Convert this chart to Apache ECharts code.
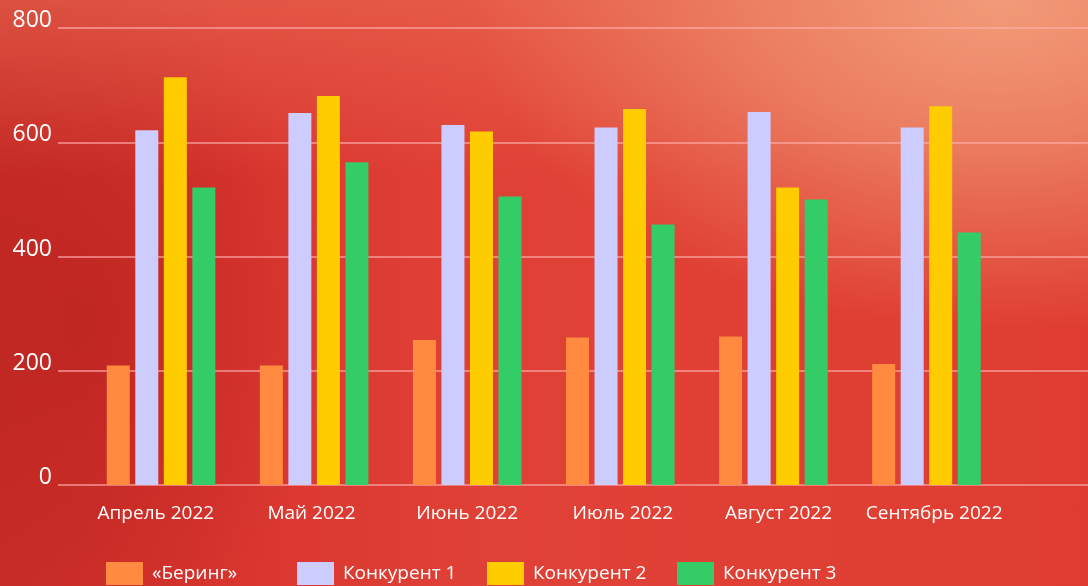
<!DOCTYPE html>
<html>
<head>
<meta charset="utf-8">
<script src="https://cdn.jsdelivr.net/npm/echarts@6/dist/echarts.min.js"></script>
<style>
    html, body {
        margin: 0;
        padding: 0;
    }
    body {
        width: 1088px;
        height: 586px;
        overflow: hidden;
        background:
            radial-gradient(ellipse 65% 75% at 92% 0%, rgba(242, 155, 120, 1) 0%, rgba(238, 140, 108, 0.75) 35%, rgba(230, 100, 80, 0) 75%),
            linear-gradient(180deg, rgba(235, 110, 85, 0.55) 0%, rgba(235, 110, 85, 0) 30%),
            radial-gradient(ellipse 22% 60% at 8% 55%, rgba(180, 30, 28, 0.55) 0%, rgba(180, 30, 28, 0) 100%),
            linear-gradient(90deg, #c92d27 0%, #d9362f 22%, #e04136 45%, #df3d31 100%);
    }
    #chart {
        width: 1088px;
        height: 586px;
    }
</style>
</head>
<body>
<div id="chart"></div>
<script>
    var months = ['Апрель 2022', 'Май 2022', 'Июнь 2022', 'Июль 2022', 'Август 2022', 'Сентябрь 2022'];
    var seriesNames = ['«Беринг»', 'Конкурент 1', 'Конкурент 2', 'Конкурент 3'];
    var bering = [209, 209, 254, 258, 260, 212];
    var rival1 = [621, 651, 630, 626, 653, 626];
    var rival2 = [714, 681, 619, 658, 521, 663];
    var rival3 = [521, 565, 505, 456, 500, 442];
    var yTicks = [0, 200, 400, 600, 800];

    var colors = ['#ff8a40', '#ccccff', '#ffcc00', '#33cc66'];
    var legendLeft = [106, 297, 487, 677];
    var fontName = '"Open Sans", "Noto Sans", sans-serif';

    var chart = echarts.init(document.getElementById('chart'));

    var legends = seriesNames.map(function (name, i) {
        return {
            data: [name],
            left: legendLeft[i],
            top: 562,
            padding: 0,
            itemWidth: 37,
            itemHeight: 23,
            itemGap: 10,
            icon: 'rect',
            selectedMode: false,
            textStyle: {
                color: '#ffffff',
                fontSize: 19,
                fontFamily: fontName,
                padding: [0, 0, 0, 4]
            }
        };
    });

    var values = [bering, rival1, rival2, rival3];
    var series = values.map(function (data, i) {
        return {
            name: seriesNames[i],
            type: 'bar',
            xAxisIndex: 0,
            yAxisIndex: 0,
            barWidth: 23,
            barGap: '24%',
            itemStyle: {
                color: colors[i]
            },
            data: data
        };
    });

    // month labels sit on their own slightly wider axis
    var option = {
        animation: false,
        color: colors,
        legend: legends,
        grid: [
            {left: 84.5, right: 85, top: 28, bottom: 101},
            {left: 58, right: 0, top: 28, bottom: 101},
            {left: 78, right: 76, top: 28, bottom: 101}
        ],
        xAxis: [
            {
                type: 'category',
                gridIndex: 0,
                data: months,
                axisLine: {show: false},
                axisTick: {show: false},
                axisLabel: {show: false}
            },
            {
                type: 'value',
                gridIndex: 1,
                show: false
            },
            {
                type: 'category',
                gridIndex: 2,
                data: months,
                axisLine: {show: false},
                axisTick: {show: false},
                axisLabel: {
                    interval: 0,
                    color: '#ffffff',
                    fontSize: 19,
                    fontFamily: fontName,
                    margin: 19
                }
            }
        ],
        yAxis: [
            {
                type: 'value',
                gridIndex: 0,
                min: yTicks[0],
                max: yTicks[yTicks.length - 1],
                interval: 200,
                show: false
            },
            {
                type: 'value',
                gridIndex: 1,
                min: yTicks[0],
                max: yTicks[yTicks.length - 1],
                interval: 200,
                axisLine: {show: false},
                axisTick: {show: false},
                axisLabel: {
                    color: '#ffffff',
                    fontSize: 23,
                    fontFamily: fontName,
                    margin: 6,
                    verticalAlign: 'bottom',
                    lineHeight: 15
                },
                splitLine: {
                    lineStyle: {
                        color: 'rgba(255, 175, 175, 0.8)',
                        width: 1.5
                    }
                }
            },
            {
                type: 'value',
                gridIndex: 2,
                show: false
            }
        ],
        series: series
    };

    chart.setOption(option);
</script>
</body>
</html>
